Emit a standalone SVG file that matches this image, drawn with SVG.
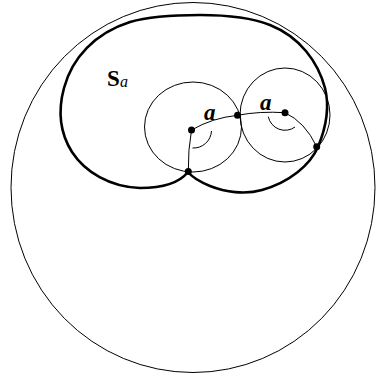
<svg xmlns="http://www.w3.org/2000/svg" width="376" height="377" viewBox="0 0 376 377">
<style>
.thin{fill:none;stroke:#000;stroke-width:1}
.thick{fill:none;stroke:#000;stroke-width:2.6;stroke-linejoin:round}
.dot{fill:#000}
.lbl{font-family:"Liberation Serif","Times New Roman",serif;fill:#000}
</style>
<rect width="376" height="377" fill="#fff"/>
<g id="outer-circle"><ellipse class="thin" cx="193" cy="187.5" rx="182" ry="185"/></g>
<g id="region-Sa">
<path class="thick" d="M188,172 C180,182 165,188 140,188 C110,187 85,172 72,152 C60,133 58,110 64,88 C72,58 95,33 130,22 C150,16 175,15 200,15 C225,15 250,17 270,25 C300,37 318,62 325,88 C330,108 325,130 318,147 C310,165 290,182 262,190 C245,195 225,192 210,186 C198,181 192,177 188,172 Z"/>
<text class="lbl" x="107" y="86" font-size="23" font-weight="bold">S</text>
<text class="lbl" x="120" y="87" font-size="16" font-style="italic">a</text>
</g>
<g id="circle-left"><ellipse class="thin" cx="193" cy="127" rx="48.5" ry="45"/></g>
<g id="circle-right"><ellipse class="thin" cx="285" cy="115" rx="45" ry="47"/></g>
<g id="connectors">
<path class="thin" d="M191.5,130 Q188,150 188.3,171.5"/>
<path class="thin" d="M191.5,130 Q212,118 237.5,115.3"/>
<path class="thin" d="M237.5,115.3 Q260,111 285,112.7"/>
<path class="thin" d="M285,112.7 Q305,122 316.7,146.7"/>
<path class="thin" d="M192.5,148 A18,18 0 0 0 211.5,131"/>
<path class="thin" d="M268.3,116.7 A17,17 0 0 0 295,127"/>
</g>
<g id="points">
<circle class="dot" cx="191.5" cy="130" r="3.5"/>
<circle class="dot" cx="188.3" cy="171.5" r="3.5"/>
<circle class="dot" cx="237.5" cy="115.3" r="3.5"/>
<circle class="dot" cx="285" cy="112.7" r="3.5"/>
<circle class="dot" cx="316.7" cy="146.7" r="3.5"/>
</g>
<g id="labels">
<text class="lbl" x="204" y="120" font-size="23" font-weight="bold" font-style="italic">a</text>
<text class="lbl" x="260" y="110" font-size="23" font-weight="bold" font-style="italic">a</text>
</g>
</svg>
